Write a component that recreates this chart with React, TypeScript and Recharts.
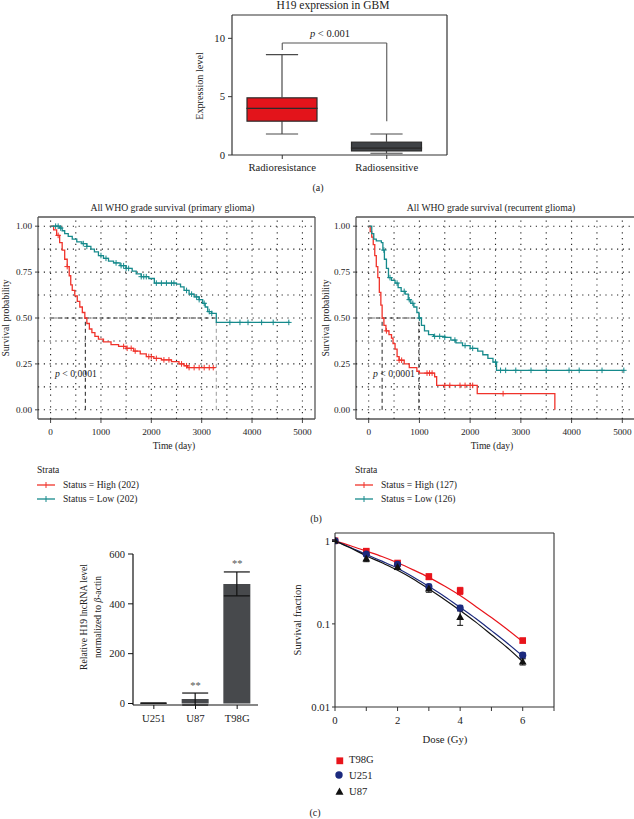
import React from 'react';
import {
  ComposedChart, Bar, Line, Scatter, XAxis, YAxis, CartesianGrid,
  ReferenceLine, ErrorBar, LabelList,
} from 'recharts';

const FONT = '"Liberation Serif", "Times New Roman", serif';

// ---------------- (a) H19 expression box plot ----------------
const boxGroups = ['Radioresistance', 'Radiosensitive'];
const boxMin = [1.8, 0.15];
const boxQ1 = [2.9, 0.35];
const boxMedian = [4.0, 0.6];
const boxQ3 = [4.9, 1.1];
const boxMax = [8.6, 1.8];
const bracketY = 9.6;
const bracketEnds = [9.0, 2.9];
const exprTicks = [0, 5, 10];

// ---------------- (b) Kaplan-Meier curves ----------------
const primaryHigh = [
  [0, 1.0], [60, 0.98], [120, 0.95], [180, 0.91], [230, 0.87], [280, 0.82], [330, 0.78],
  [370, 0.73], [400, 0.68], [430, 0.65], [480, 0.62], [530, 0.59], [580, 0.56], [630, 0.53],
  [680, 0.5], [720, 0.47], [770, 0.44], [820, 0.42], [880, 0.4], [950, 0.385], [1050, 0.37],
  [1200, 0.355], [1350, 0.345], [1500, 0.335], [1650, 0.32], [1780, 0.305], [1900, 0.29],
  [2050, 0.28], [2200, 0.272], [2400, 0.262], [2550, 0.25], [2650, 0.24], [2720, 0.23], [3270, 0.23],
];
const primaryLow = [
  [0, 1.0], [180, 0.99], [230, 0.975], [280, 0.96], [350, 0.945], [430, 0.93], [520, 0.915],
  [620, 0.905], [720, 0.89], [800, 0.875], [870, 0.86], [950, 0.84], [1050, 0.825], [1150, 0.81],
  [1250, 0.8], [1380, 0.785], [1500, 0.77], [1620, 0.755], [1700, 0.74], [1800, 0.725],
  [1950, 0.715], [2060, 0.69], [2500, 0.685], [2580, 0.67], [2650, 0.65], [2750, 0.63],
  [2850, 0.615], [2950, 0.6], [3020, 0.58], [3070, 0.56], [3120, 0.535], [3200, 0.525],
  [3290, 0.476], [4750, 0.476],
];
const recurrentHigh = [
  [0, 1.0], [30, 0.97], [60, 0.94], [90, 0.9], [120, 0.84], [150, 0.78], [180, 0.72],
  [210, 0.64], [240, 0.57], [265, 0.5], [300, 0.46], [340, 0.43], [400, 0.41], [450, 0.39],
  [480, 0.36], [520, 0.33], [560, 0.29], [600, 0.27], [700, 0.25], [800, 0.23], [950, 0.21],
  [1000, 0.2], [1300, 0.18], [1340, 0.133], [2140, 0.088], [3670, 0.0],
];
const recurrentLow = [
  [0, 1.0], [60, 0.96], [100, 0.93], [150, 0.92], [250, 0.91], [280, 0.87], [310, 0.82],
  [350, 0.77], [390, 0.72], [450, 0.705], [520, 0.69], [580, 0.665], [640, 0.645], [720, 0.63],
  [780, 0.6], [830, 0.58], [890, 0.56], [950, 0.53], [990, 0.5], [1040, 0.46], [1100, 0.43],
  [1180, 0.41], [1280, 0.4], [1500, 0.395], [1620, 0.38], [1720, 0.365], [1850, 0.35],
  [2000, 0.335], [2150, 0.32], [2250, 0.3], [2350, 0.28], [2450, 0.26], [2520, 0.215], [5040, 0.215],
];
const primaryHighCensor = [150, 330, 1450, 1520, 1600, 1680, 1950, 2000, 2100, 2250, 2350, 2600, 2700, 2750, 2850, 2950, 3050, 3150, 3230];
const primaryLowCensor = [100, 150, 200, 650, 720, 1000, 1100, 1300, 1400, 1450, 1500, 1550, 1800, 1850, 1900, 2100, 2200, 2300, 2400, 2450, 2700, 2800, 2900, 2950, 3050, 3150, 3200, 3560, 3760, 3920, 4190, 4420, 4730];
const recurrentHighCensor = [350, 600, 650, 1150, 1200, 1250, 1500, 1600, 1800, 1900, 2000, 2050, 2650];
const recurrentLowCensor = [300, 420, 560, 700, 800, 870, 1000, 1300, 1400, 1500, 1700, 1900, 2050, 2500, 2600, 2700, 2900, 3200, 3500, 3950, 4150, 4600, 5030];
const primaryMedians = [690, 3290];
const recurrentMedians = [265, 990];
const timeTicks = [0, 1000, 2000, 3000, 4000, 5000];
const timeGrid = [0, 500, 1000, 1500, 2000, 2500, 3000, 3500, 4000, 4500, 5000];
const probTicks = [0, 0.25, 0.5, 0.75, 1];
const probGrid = [0, 0.125, 0.25, 0.375, 0.5, 0.625, 0.75, 0.875, 1];

// ---------------- (c) qPCR bars ----------------
const cellLines = ['U251', 'U87', 'T98G'];
const h19Level = [1.5, 18, 480];
const h19Err = [0.5, 24, 48];
const h19Sig = ['', '**', '**'];
const levelTicks = [0, 200, 400, 600];

// ---------------- (c) clonogenic survival ----------------
const doses = [0, 1, 2, 3, 4, 6];
const sfT98G = [1, 0.75, 0.54, 0.37, 0.25, 0.063];
const errT98G = [0.02, 0.04, 0.03, 0.03, 0.025, 0.004];
const sfU251 = [1, 0.69, 0.52, 0.28, 0.155, 0.042];
const errU251 = [0.02, 0.03, 0.03, 0.02, 0.012, 0.003];
const sfU87 = [1, 0.61, 0.48, 0.265, 0.12, 0.035];
const errU87 = [0.02, 0.05, 0.03, 0.025, 0.024, 0.003];
const fitDoses = [0, 0.5, 1, 1.5, 2, 2.5, 3, 3.5, 4, 4.5, 5, 5.5, 6];
const fitT98G = [1, 0.871, 0.75, 0.646, 0.543, 0.447, 0.363, 0.285, 0.219, 0.162, 0.119, 0.086, 0.061];
const fitU251 = [1, 0.83, 0.684, 0.569, 0.468, 0.367, 0.282, 0.214, 0.158, 0.116, 0.083, 0.059, 0.041];
const fitU87 = [1, 0.817, 0.66, 0.543, 0.442, 0.347, 0.263, 0.197, 0.145, 0.105, 0.074, 0.052, 0.035];
const doseTicks = [0, 1, 2, 3, 4, 5, 6, 7];
const sfTicks = [0.01, 0.1, 1];

// ---------------- styling ----------------
const KM_RED = '#f0332b';
const KM_TEAL = '#168a8c';
const BOX_FILLS = ['#e3141b', '#3f4246'];
const BAR_FILL = '#47494c';
const C_RED = '#e8141b';
const C_BLUE = '#1c2a7e';
const C_BLACK = '#111';

const frame = (color = '#444', w = 1.2) => (
  <CartesianGrid
    stroke={color}
    strokeWidth={w}
    horizontalCoordinatesGenerator={(p: any) => [p.offset.top, p.offset.top + p.offset.height]}
    verticalCoordinatesGenerator={(p: any) => [p.offset.left, p.offset.left + p.offset.width]}
  />
);

const stepValue = (curve: number[][], t: number) => {
  let v = curve[0][1];
  for (const [ct, cs] of curve) if (ct <= t) v = cs;
  return v;
};
const toPts = (curve: number[][]) => curve.map(([t, s]) => ({ t, s }));
const censorPts = (curve: number[][], times: number[]) => times.map((t) => ({ t, s: stepValue(curve, t) }));

const plusShape = (color: string) => (p: any) => (
  <g>
    <line x1={p.cx - 2.8} x2={p.cx + 2.8} y1={p.cy} y2={p.cy} stroke={color} strokeWidth={1} />
    <line x1={p.cx} x2={p.cx} y1={p.cy - 2.8} y2={p.cy + 2.8} stroke={color} strokeWidth={1} />
  </g>
);

// ---------------- text helper ----------------
const Txt = ({ x, y, size = 10, anchor = 'middle', rotate = 0, children, color = '#222' }: any) => (
  <div
    style={{
      position: 'absolute', left: x, top: y, fontSize: size, lineHeight: 1, whiteSpace: 'nowrap',
      fontFamily: FONT, color,
      transform: `translate(${anchor === 'middle' ? '-50%' : anchor === 'end' ? '-100%' : '0'}, -50%) rotate(${rotate}deg)`,
    }}
  >
    {children}
  </div>
);

const Abs = ({ x, y, children }: any) => (
  <div style={{ position: 'absolute', left: x, top: y, lineHeight: 0 }}>{children}</div>
);

// ---------------- (a) box plot ----------------
const boxTable = boxGroups.map((g, i) => ({
  group: g,
  base: boxMin[i],
  lowWhisker: boxQ1[i] - boxMin[i],
  lowerBox: boxMedian[i] - boxQ1[i],
  upperBox: boxQ3[i] - boxMedian[i],
  highWhisker: boxMax[i] - boxQ3[i],
}));

const whisker = (capAtTop: boolean) => (p: any) => {
  const cx = p.x + p.width / 2;
  const half = p.width * 0.23;
  const capY = capAtTop ? p.y : p.y + p.height;
  return (
    <g>
      <line x1={cx} x2={cx} y1={p.y} y2={p.y + p.height} stroke="#4a4a4a" strokeWidth={1.2} />
      <line x1={cx - half} x2={cx + half} y1={capY} y2={capY} stroke="#4a4a4a" strokeWidth={1.2} />
    </g>
  );
};
const boxPart = (p: any) => (
  <rect x={p.x} y={p.y} width={p.width} height={p.height} fill={BOX_FILLS[p.index]} stroke="#2b2b2b" strokeWidth={1.2} />
);

const tickStyle = (size: number) => ({ fontSize: size, fontFamily: FONT, fill: '#222' });

function PanelA() {
  return (
    <ComposedChart width={310} height={185} data={boxTable} margin={{ top: 15, right: 13, left: 47, bottom: 0 }}>
      {frame('#333', 1.2)}
      <XAxis dataKey="group" type="category" height={30} tickSize={4} tickMargin={4} axisLine={false}
        tick={tickStyle(10.7)} tickLine={{ stroke: '#333' }} padding={{ left: -2, right: 8 }} />
      <YAxis type="number" domain={[0, 12]} ticks={exprTicks} width={35} tickSize={4} tickMargin={3}
        axisLine={false} tick={tickStyle(10.7)} tickLine={{ stroke: '#333' }} />
      <Bar dataKey="base" stackId="b" barSize={70} fill="none" isAnimationActive={false} />
      <Bar dataKey="lowWhisker" stackId="b" barSize={70} shape={whisker(false)} isAnimationActive={false} />
      <Bar dataKey="lowerBox" stackId="b" barSize={70} shape={boxPart} isAnimationActive={false} />
      <Bar dataKey="upperBox" stackId="b" barSize={70} shape={boxPart} isAnimationActive={false} />
      <Bar dataKey="highWhisker" stackId="b" barSize={70} shape={whisker(true)} isAnimationActive={false} />
      <ReferenceLine segment={[{ x: boxGroups[0], y: bracketY }, { x: boxGroups[1], y: bracketY }]} stroke="#555" strokeWidth={1.1} />
      <ReferenceLine segment={[{ x: boxGroups[0], y: bracketEnds[0] }, { x: boxGroups[0], y: bracketY }]} stroke="#555" strokeWidth={1.1} />
      <ReferenceLine segment={[{ x: boxGroups[1], y: bracketEnds[1] }, { x: boxGroups[1], y: bracketY }]} stroke="#555" strokeWidth={1.1} />
    </ComposedChart>
  );
}

// ---------------- (b) KM chart ----------------
function KMChart({ width, marginRight, high, low, highCensor, lowCensor, medians, secondGray }: any) {
  const dotted = { stroke: '#222', strokeDasharray: '1.2 4.6', strokeWidth: 1.1 };
  return (
    <ComposedChart width={width} height={245} margin={{ top: 17, right: marginRight, left: 0, bottom: 0 }}>
      {frame('#555', 1.3)}
      <XAxis type="number" dataKey="t" domain={[-250, 5250]} ticks={timeTicks} allowDataOverflow
        height={26} tickSize={4} tickMargin={5} axisLine={false} tick={tickStyle(9.2)} tickLine={{ stroke: '#444' }} />
      <YAxis type="number" domain={[-0.05, 1.05]} ticks={probTicks} allowDataOverflow
        tickFormatter={(v: number) => v.toFixed(2)} width={38} tickSize={3} tickMargin={3}
        axisLine={false} tick={tickStyle(9.2)} tickLine={{ stroke: '#444' }} />
      {timeGrid.map((v) => <ReferenceLine key={'gx' + v} x={v} {...dotted} />)}
      {probGrid.map((v) => <ReferenceLine key={'gy' + v} y={v} {...dotted} />)}
      <ReferenceLine segment={[{ x: 0, y: 0.5 }, { x: medians[1], y: 0.5 }]} stroke="#222" strokeDasharray="4 3" strokeWidth={1} />
      <ReferenceLine segment={[{ x: medians[0], y: 0 }, { x: medians[0], y: 0.5 }]} stroke="#222" strokeDasharray="4 3" strokeWidth={1} />
      <ReferenceLine segment={[{ x: medians[1], y: 0 }, { x: medians[1], y: 0.5 }]} stroke={secondGray ? '#999' : '#222'} strokeDasharray="4 3" strokeWidth={1} />
      <Line data={toPts(high)} dataKey="s" type="stepAfter" stroke={KM_RED} strokeWidth={1.3} dot={false} isAnimationActive={false} />
      <Line data={toPts(low)} dataKey="s" type="stepAfter" stroke={KM_TEAL} strokeWidth={1.3} dot={false} isAnimationActive={false} />
      <Scatter data={censorPts(high, highCensor)} dataKey="s" shape={plusShape(KM_RED)} isAnimationActive={false} />
      <Scatter data={censorPts(low, lowCensor)} dataKey="s" shape={plusShape(KM_TEAL)} isAnimationActive={false} />
    </ComposedChart>
  );
}

// ---------------- (c) bar chart ----------------
const barTable = cellLines.map((c, i) => ({
  line: c, level: h19Level[i], err: h19Err[i], sig: h19Sig[i], sigY: h19Level[i] + h19Err[i],
}));

function PanelCBars() {
  return (
    <ComposedChart width={210} height={200} data={barTable} margin={{ top: 24, right: 12, left: 0, bottom: 0 }}>
      <XAxis dataKey="line" type="category" height={25} tickSize={4} tickMargin={5}
        axisLine={{ stroke: '#111', strokeWidth: 1.2 }} tickLine={{ stroke: '#111' }} tick={tickStyle(10.7)} />
      <YAxis type="number" domain={[0, 600]} ticks={levelTicks} width={73} tickSize={5} tickMargin={3}
        axisLine={{ stroke: '#111', strokeWidth: 1.2 }} tickLine={{ stroke: '#111' }} tick={tickStyle(10.5)} />
      <Bar dataKey="level" fill={BAR_FILL} barSize={27} isAnimationActive={false}>
        <ErrorBar dataKey="err" width={13} stroke="#111" strokeWidth={1.2} direction="y" />
      </Bar>
      <Scatter dataKey="sigY" shape={() => <g />} isAnimationActive={false}>
        <LabelList dataKey="sig" position="top" offset={0} style={{ fontSize: 10.5, fontFamily: FONT, fill: '#555' }} />
      </Scatter>
    </ComposedChart>
  );
}

// ---------------- (c) survival fraction ----------------
const sfTable = (sf: number[], err: number[]) => doses.map((d, i) => ({ dose: d, sf: sf[i], err: err[i] }));
const fitTable = (fit: number[]) => fitDoses.map((d, i) => ({ dose: d, sf: fit[i] }));

const squareShape = (p: any) => <rect x={p.cx - 3.3} y={p.cy - 3.3} width={6.6} height={6.6} fill={C_RED} />;
const circleShape = (p: any) => <circle cx={p.cx} cy={p.cy} r={3.6} fill={C_BLUE} />;
const triShape = (p: any) => <polygon points={`${p.cx},${p.cy - 4.2} ${p.cx - 3.9},${p.cy + 2.8} ${p.cx + 3.9},${p.cy + 2.8}`} fill={C_BLACK} />;

function PanelCSurvival() {
  return (
    <ComposedChart width={270} height={240} margin={{ top: 13, right: 6, left: 0, bottom: 0 }}>
      {frame('#333', 1.1)}
      <XAxis type="number" dataKey="dose" domain={[0, 7]} ticks={doseTicks} allowDataOverflow
        tickFormatter={(v: number) => (v % 2 === 0 && v < 7 ? String(v) : '')}
        height={53} tickSize={4} tickMargin={5} axisLine={false} tickLine={{ stroke: '#333' }} tick={tickStyle(10.7)} />
      <YAxis type="number" scale="log" domain={[0.01, 1.24]} ticks={sfTicks} allowDataOverflow
        tickFormatter={(v: number) => String(v)} width={45} tickSize={3} tickMargin={2}
        axisLine={false} tickLine={{ stroke: '#333' }} tick={tickStyle(10.7)} />
      <Line data={fitTable(fitT98G)} dataKey="sf" type="monotone" stroke={C_RED} strokeWidth={1.2} dot={false} isAnimationActive={false} />
      <Line data={fitTable(fitU251)} dataKey="sf" type="monotone" stroke={C_BLUE} strokeWidth={1.2} dot={false} isAnimationActive={false} />
      <Line data={fitTable(fitU87)} dataKey="sf" type="monotone" stroke={C_BLACK} strokeWidth={1.2} dot={false} isAnimationActive={false} />
      <Scatter data={sfTable(sfT98G, errT98G)} dataKey="sf" shape={squareShape} isAnimationActive={false}>
        <ErrorBar dataKey="err" direction="y" width={3} stroke={C_RED} strokeWidth={1} />
      </Scatter>
      <Scatter data={sfTable(sfU251, errU251)} dataKey="sf" shape={circleShape} isAnimationActive={false}>
        <ErrorBar dataKey="err" direction="y" width={3} stroke={C_BLUE} strokeWidth={1} />
      </Scatter>
      <Scatter data={sfTable(sfU87, errU87)} dataKey="sf" shape={triShape} isAnimationActive={false}>
        <ErrorBar dataKey="err" direction="y" width={3} stroke={C_BLACK} strokeWidth={1} />
      </Scatter>
    </ComposedChart>
  );
}

const KMLegendItem = ({ x, y, color, label }: any) => (
  <>
    <Abs x={x} y={y - 4}>
      <svg width={19} height={8} style={{ display: 'block' }}>
        <line x1={0} x2={18} y1={4} y2={4} stroke={color} strokeWidth={1.3} />
        <line x1={9} x2={9} y1={1} y2={7} stroke={color} strokeWidth={1} />
      </svg>
    </Abs>
    <Txt x={x + 26} y={y} size={9.6} anchor="start">{label}</Txt>
  </>
);

export default function App() {
  return (
    <div style={{ position: 'absolute', left: 0, top: 0, width: 634, height: 819, overflow: 'hidden', background: '#fff', fontFamily: FONT }}>
      {/* (a) */}
      <Abs x={150} y={0}><PanelA /></Abs>
      <Txt x={333} y={6} size={11.5}>H19 expression in GBM</Txt>
      <Txt x={199.5} y={86} size={10.2} rotate={-90}>Expression level</Txt>
      <Txt x={330} y={34} size={10.5}><i>p</i> &lt; 0.001</Txt>
      <Txt x={318} y={188} size={10}>(a)</Txt>

      {/* (b) */}
      <Abs x={0} y={200}>
        <KMChart width={320} marginRight={5} high={primaryHigh} low={primaryLow}
          highCensor={primaryHighCensor} lowCensor={primaryLowCensor} medians={primaryMedians} secondGray />
      </Abs>
      <Abs x={318} y={200}>
        <KMChart width={317} marginRight={0} high={recurrentHigh} low={recurrentLow}
          highCensor={recurrentHighCensor} lowCensor={recurrentLowCensor} medians={recurrentMedians} />
      </Abs>
      <Txt x={172.5} y={208} size={9.7}>All WHO grade survival (primary glioma)</Txt>
      <Txt x={491} y={208} size={9.7}>All WHO grade survival (recurrent glioma)</Txt>
      <Txt x={6} y={318} size={9.6} rotate={-90}>Survival probability</Txt>
      <Txt x={326} y={318} size={9.6} rotate={-90}>Survival probability</Txt>
      <Txt x={76} y={374} size={9.7}><i>p</i> &lt; 0.0001</Txt>
      <Txt x={394} y={374} size={9.7}><i>p</i> &lt; 0.0001</Txt>
      <Txt x={174} y={446} size={9.6}>Time (day)</Txt>
      <Txt x={492} y={446} size={9.6}>Time (day)</Txt>
      <Txt x={37} y={470} size={9.6} anchor="start">Strata</Txt>
      <KMLegendItem x={37} y={485} color={KM_RED} label="Status = High (202)" />
      <KMLegendItem x={37} y={498.5} color={KM_TEAL} label="Status = Low (202)" />
      <Txt x={355} y={470} size={9.6} anchor="start">Strata</Txt>
      <KMLegendItem x={355} y={485} color={KM_RED} label="Status = High (127)" />
      <KMLegendItem x={355} y={498.5} color={KM_TEAL} label="Status = Low (126)" />
      <Txt x={316} y={519} size={10}>(b)</Txt>

      {/* (c) left */}
      <Abs x={60} y={530}><PanelCBars /></Abs>
      <Txt x={84} y={617} size={9.6} rotate={-90}>Relative H19 lncRNA level</Txt>
      <Txt x={98} y={617} size={9.6} rotate={-90}>normalized to <i>β</i>-actin</Txt>

      {/* (c) right */}
      <Abs x={290} y={520}><PanelCSurvival /></Abs>
      <Txt x={298} y={620} size={10.5} rotate={-90}>Survival fraction</Txt>
      <Txt x={445} y={739} size={10.7}>Dose (Gy)</Txt>
      <Abs x={335.5} y={756.5}>
        <svg width={8} height={8} style={{ display: 'block' }}><rect x={0.4} y={0.4} width={6.8} height={6.8} fill={C_RED} /></svg>
      </Abs>
      <Abs x={335} y={771}>
        <svg width={8} height={8} style={{ display: 'block' }}><circle cx={4} cy={4} r={3.7} fill={C_BLUE} /></svg>
      </Abs>
      <Abs x={334.5} y={787}>
        <svg width={9} height={9} style={{ display: 'block' }}><polygon points="4.5,0.5 0.5,7.8 8.5,7.8" fill={C_BLACK} /></svg>
      </Abs>
      <Txt x={349} y={760} size={10.6} anchor="start">T98G</Txt>
      <Txt x={349} y={775.5} size={10.6} anchor="start">U251</Txt>
      <Txt x={349} y={791.5} size={10.6} anchor="start">U87</Txt>
      <Txt x={315} y={813} size={10}>(c)</Txt>
    </div>
  );
}
